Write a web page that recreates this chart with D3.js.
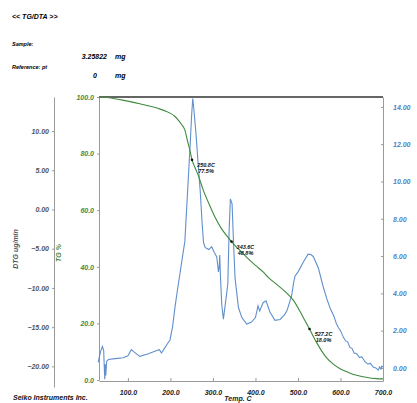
<!DOCTYPE html>
<html><head><meta charset="utf-8">
<script src="https://cdn.jsdelivr.net/npm/d3@7"></script>
<style>
body{margin:0;background:#fff;}
svg text{font-family:"Liberation Sans",Arial,sans-serif;font-style:italic;font-weight:bold;}
</style></head>
<body><svg id="c" width="417" height="403"></svg>
<script>
// ---- data ----
const tgTemp = [32,50,88,128,168,199,210,218,226,234,241,246,250.8,258,265,277,293,305,320,335,343.6,360,379,400,418,430,450,473,489,505,515,527.2,544,556,568,583,599,620,638,660,685,700];
const tgValues = [100,99.8,98.9,97.6,96.1,94.3,93.2,91.9,90.3,88.3,84,81,77.8,75,72.5,67.2,61.5,57.5,53.5,50.5,48.9,46.3,43.4,40.5,38.2,36.3,33.8,30.8,28.2,24.2,21.4,18.0,13.2,10.2,7.7,5.6,4.0,2.6,1.7,1.0,0.5,0.4];

const dtaTemp = [30,36,40,43,44,45.5,47,48,50,54,70,89,100,108,115,128,148,168,174,179,186,193,199,205,211,216,222,228,234,240,246,250,252.5,255,260,265,270,275,278,282,285,290,297,303,309,313,315,316,317.5,320.7,324.6,331,335,338,341,345,348,352,360,368,379.5,390,400,406,410,418,425,434,446,458,468,474,485,490,493,501,513,524,530,536,548,560,568,575,585,590,595,600,607,612,617,622,627,632,638,645,650,658,665,670,677,683,689,692,695,697,700];
const dtaValues = [0.3,0.9,1.15,0.95,0.3,-0.6,0.2,-0.4,0.35,0.45,0.5,0.55,0.65,0.98,0.85,0.62,0.76,0.94,0.98,0.8,1.05,1.3,1.5,2.2,3.3,4.1,5.0,5.9,6.8,9.3,11.8,13.6,14.45,13.9,12.6,11.0,9.5,7.6,6.7,6.45,6.42,6.35,6.5,6.2,5.95,5.15,5.5,6.05,5.0,3.4,2.62,3.77,4.5,7.3,9.07,8.8,7.0,4.83,3.24,2.7,2.35,2.45,2.7,3.33,3.06,3.5,3.6,3.0,2.55,2.6,2.85,3.06,3.86,4.6,4.92,5.18,5.7,6.1,6.08,5.98,5.36,4.3,3.7,3.24,2.75,2.4,2.17,2.0,1.64,1.45,1.4,1.1,1.05,0.8,0.76,0.55,0.6,0.32,0.2,0.25,0.05,0.0,-0.12,0.05,-0.05,0.1,0.05];

const xTicks = [100,200,300,400,500,600,700];
const tgTicks = [0,20,40,60,80,100];
const dtgTicks = [-20,-15,-10,-5,0,5,10];
const dtaTicks = [0,2,4,6,8,10,12,14];

const markTemp = [250.8,343.6,527.2];
const markTG = [77.8,48.9,18.0];
const markLabel1 = ["250.8C","343.6C","527.2C"];
const markLabel2 = ["77.5%","48.8%","18.0%"];

// ---- scales ----
const svg = d3.select("#c");
const x = d3.scaleLinear().domain([32,700]).range([99,383]);
const yTG = d3.scaleLinear().domain([0,100]).range([380,97]);
const yDTA = d3.scaleLinear().domain([-0.7,14.53]).range([381,97]);
const yDTG = d3.scaleLinear().domain([-22.63,14.34]).range([387,97]);

const green = "#3f8a3f", blue = "#4f83c8", gray = "#9a9a9a";

// header texts
svg.append("text").attr("x",12).attr("y",19).attr("font-size",7).text("<< TG/DTA >>");
svg.append("text").attr("x",12).attr("y",46).attr("font-size",5.5).text("Sample:");
svg.append("text").attr("x",107).attr("y",59).attr("font-size",7).attr("text-anchor","end").text("3.25822");
svg.append("text").attr("x",115).attr("y",59).attr("font-size",7).text("mg");
svg.append("text").attr("x",12).attr("y",69).attr("font-size",5.5).text("Reference:  pt");
svg.append("text").attr("x",97).attr("y",78).attr("font-size",7).attr("text-anchor","end").text("0");
svg.append("text").attr("x",115).attr("y",78).attr("font-size",7).text("mg");

// frame
svg.append("line").attr("x1",99).attr("x2",383).attr("y1",97).attr("y2",97).attr("stroke","#333").attr("stroke-width",1.6);

function styleAxis(g, col, lineCol){
  g.select(".domain").attr("stroke",lineCol).attr("stroke-width",1);
  g.selectAll(".tick line").attr("stroke",lineCol);
  g.selectAll(".tick text").attr("fill",col).attr("font-size",7).attr("font-family",null);
}

// x axis
const gx = svg.append("g").attr("transform","translate(0,381)")
  .call(d3.axisTop(x).tickValues(xTicks).tickFormat(d3.format(".1f")).tickSize(3).tickSizeOuter(0));
styleAxis(gx,"#222",gray);
gx.selectAll(".tick text").attr("y",12).attr("dy","0.32em");

// TG axis
const gtg = svg.append("g").attr("transform","translate(99,0)")
  .call(d3.axisLeft(yTG).tickValues(tgTicks).tickFormat(d3.format(".1f")).tickSize(2).tickSizeOuter(0));
styleAxis(gtg,green,gray);

// DTG axis
const gdtg = svg.append("g").attr("transform","translate(54,0)")
  .call(d3.axisLeft(yDTG).tickValues(dtgTicks).tickFormat(d3.format(".2f")).tickSize(2).tickSizeOuter(0));
styleAxis(gdtg,"#555",gray);

// DTA axis
const gdta = svg.append("g").attr("transform","translate(383,0)")
  .call(d3.axisLeft(yDTA).tickValues(dtaTicks).tickFormat(d3.format(".2f")).tickSize(2).tickSizeOuter(0));
styleAxis(gdta,blue,gray);
gdta.selectAll(".tick text").attr("text-anchor","start").attr("x",10);

// axis titles
svg.append("text").attr("transform","translate(18,249) rotate(-90)").attr("text-anchor","middle").attr("font-size",7).attr("fill","#555").text("DTG ug/min");
svg.append("text").attr("transform","translate(61,253) rotate(-90)").attr("text-anchor","middle").attr("font-size",7).attr("fill",green).text("TG %");
svg.append("text").attr("x",238).attr("y",401).attr("text-anchor","middle").attr("font-size",7).attr("fill","#222").text("Temp. C");
svg.append("text").attr("x",13).attr("y",400).attr("font-size",7).attr("fill","#111").text("Seiko Instruments Inc.");

// curves
const dtaData = dtaTemp.map((t,i)=>[t,dtaValues[i]]);
const tgData = tgTemp.map((t,i)=>[t,tgValues[i]]);
svg.append("path").datum(dtaData)
  .attr("d",d3.line().x(d=>x(d[0])).y(d=>yDTA(d[1])))
  .attr("fill","none").attr("stroke",blue).attr("stroke-width",1.1).attr("opacity",0.9);
svg.append("path").datum(tgData)
  .attr("d",d3.line().curve(d3.curveMonotoneX).x(d=>x(d[0])).y(d=>yTG(d[1])))
  .attr("fill","none").attr("stroke",green).attr("stroke-width",1.1);

// markers
markTemp.forEach((t,i)=>{
  const cx = x(t), cy = yTG(markTG[i]);
  svg.append("circle").attr("cx",cx).attr("cy",cy).attr("r",1.3).attr("fill","#111");
  svg.append("text").attr("x",cx+14).attr("y",cy+7).attr("text-anchor","middle").attr("font-size",5.5).attr("fill","#111").text(markLabel1[i]);
  svg.append("text").attr("x",cx+14).attr("y",cy+13).attr("text-anchor","middle").attr("font-size",5.5).attr("fill","#111").text(markLabel2[i]);
});
</script></body></html>
